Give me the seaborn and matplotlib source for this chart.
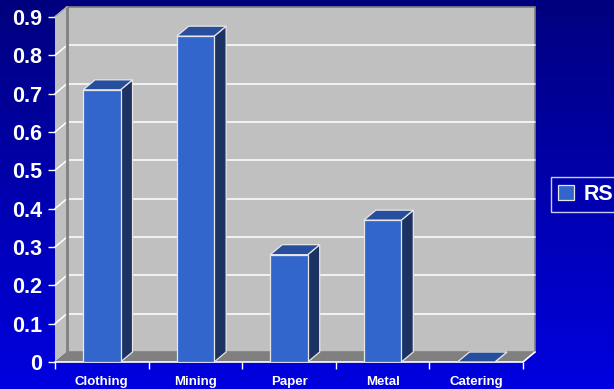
import numpy as np
import matplotlib
matplotlib.use("Agg")
from matplotlib import pyplot as plt
from matplotlib.patches import Polygon, Rectangle
from matplotlib.ticker import FixedLocator, FixedFormatter
import seaborn as sns
import pandas as pd

categories = ["Clothing", "Mining", "Paper", "Metal", "Catering"]
rs_values = [0.71, 0.85, 0.28, 0.37, 0.0]
y_ticks = [0.0, 0.1, 0.2, 0.3, 0.4, 0.5, 0.6, 0.7, 0.8, 0.9]
y_labels = ["0", "0.1", "0.2", "0.3", "0.4", "0.5", "0.6", "0.7", "0.8", "0.9"]

df = pd.DataFrame({"sector": categories, "RS": rs_values})

sns.set_style("white")
plt.rcParams["font.family"] = ["Liberation Sans", "DejaVu Sans"]
plt.rcParams["font.weight"] = "bold"

W, H, DPI = 614, 389, 100
fig = plt.figure(figsize=(W / DPI, H / DPI), dpi=DPI)

# blue gradient background
bg = fig.add_axes([0, 0, 1, 1], zorder=-10)
grad = np.linspace(0, 1, 256).reshape(-1, 1)
cmap = matplotlib.colors.LinearSegmentedColormap.from_list("bg", ["#00007E", "#0000E0"])
bg.imshow(grad, aspect="auto", cmap=cmap, extent=[0, 1, 0, 1], origin="upper")
bg.set_axis_off()

# front plane of the 3d box
left, right, bottom, top = 55, 523, 362, 17
ax = fig.add_axes([left / W, 1 - bottom / H, (right - left) / W, (bottom - top) / H])
ax.patch.set_alpha(0)

front_col, side_col, top_col = "#3366CC", "#1B3263", "#264E9C"
sns.barplot(df, x="sector", y="RS", ax=ax, color=front_col, saturation=1,
            width=0.4, label="RS", edgecolor="#E6E6E6", linewidth=0.9, zorder=5)

ax.set_xlim(-0.5, len(categories) - 0.5)
ax.set_ylim(0, 0.9)

# depth of the 3d effect, in data units
px_x = (right - left) / (len(categories))
px_y = (bottom - top) / 0.9
dx, dy = 12 / px_x, 10 / px_y

x0, x1 = -0.5, len(categories) - 0.5
ymax = 0.9
wall = "#C0C0C0"
# back wall
ax.add_patch(Rectangle((x0 + dx, dy), x1 - x0, ymax, facecolor=wall, edgecolor="#808080",
                       linewidth=1.2, clip_on=False, zorder=0))
# left wall
ax.add_patch(Polygon([(x0, 0), (x0, ymax), (x0 + dx, ymax + dy), (x0 + dx, dy)],
                     closed=True, facecolor=wall, edgecolor="none", clip_on=False, zorder=0.5))
for v in y_ticks[1:-1]:
    ax.plot([x0 + dx, x1 + dx], [v + dy, v + dy], color="white", lw=1.1, clip_on=False, zorder=1)
for v in y_ticks[1:]:
    ax.plot([x0, x0 + dx], [v, v + dy], color="white", lw=1.1, clip_on=False, zorder=1)
ax.plot([x0 + dx, x0 + dx], [dy, ymax + dy], color="#808080", lw=2, clip_on=False, zorder=1.2)
ax.plot([x0, x0 + dx], [ymax, ymax + dy], color="#A0A0A0", lw=1, clip_on=False, zorder=1.2)
# floor
ax.add_patch(Polygon([(x0, 0), (x1, 0), (x1 + dx, dy), (x0 + dx, dy)], closed=True,
                     facecolor="#808080", edgecolor="none", clip_on=False, zorder=2))
ax.plot([x0, x1, x1 + dx], [0, 0, dy], color="white", lw=1.2, clip_on=False, zorder=2.2)

# side and top faces of the bars
edge = "#E6E6E6"
for bar in ax.patches:
    if not isinstance(bar, Rectangle) or bar.get_facecolor()[:3] != matplotlib.colors.to_rgb(front_col):
        continue
    bx, bw, bh = bar.get_x(), bar.get_width(), bar.get_height()
    ax.add_patch(Polygon([(bx + bw, 0), (bx + bw, bh), (bx + bw + dx, bh + dy), (bx + bw + dx, dy)],
                         closed=True, facecolor=side_col, edgecolor=edge, lw=0.9,
                         clip_on=False, zorder=4))
    ax.add_patch(Polygon([(bx, bh), (bx + bw, bh), (bx + bw + dx, bh + dy), (bx + dx, bh + dy)],
                         closed=True, facecolor=top_col, edgecolor=edge, lw=0.9,
                         clip_on=False, zorder=4))

for s in ax.spines.values():
    s.set_visible(False)
ax.set_xlabel("")
ax.set_ylabel("")
ax.yaxis.set_major_locator(FixedLocator(y_ticks))
ax.yaxis.set_major_formatter(FixedFormatter(y_labels))
ax.tick_params(axis="y", colors="white", labelcolor="white", labelsize=15.5, length=5,
               width=1, direction="out", pad=4, left=True)
ax.set_xticks(range(len(categories)), categories)
ax.xaxis.set_minor_locator(FixedLocator(np.arange(len(categories) + 1) - 0.5))
ax.tick_params(axis="x", which="major", length=0, labelcolor="white", labelsize=9.5, pad=10)
ax.tick_params(axis="x", which="minor", length=5, width=1, color="white", direction="out",
               bottom=True)
for lab in ax.get_xticklabels() + ax.get_yticklabels():
    lab.set_fontweight("bold")

leg = ax.legend(loc="center left", bbox_to_anchor=(551 / W, 1 - 194.5 / H),
                bbox_transform=fig.transFigure, borderaxespad=0, frameon=True, fancybox=False,
                handlelength=0.75, handleheight=0.75, handletextpad=0.45,
                borderpad=0.32, prop={"weight": "bold", "size": 15.5})
leg.get_frame().set_facecolor("none")
leg.get_frame().set_edgecolor("white")
leg.get_frame().set_linewidth(1)
for t in leg.get_texts():
    t.set_color("white")

fig.savefig("out.png", dpi=DPI)
